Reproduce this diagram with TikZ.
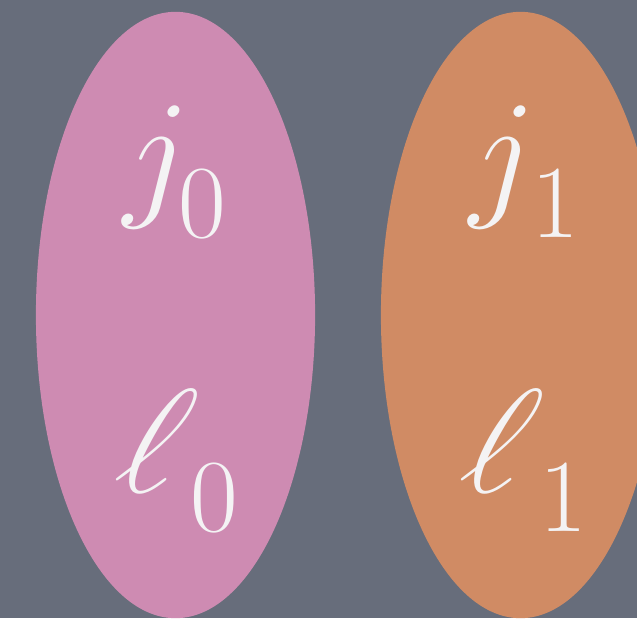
\documentclass[tikz,border=0pt]{standalone}
\usepackage{fix-cm}
\definecolor{bgcol}{HTML}{676D7B}
\definecolor{pinkfill}{HTML}{CE8BB2}
\definecolor{orangefill}{HTML}{D08B64}
\definecolor{txtcol}{HTML}{F4F3F4}
\tikzset{
  lbl/.style={text=txtcol, inner sep=0pt, anchor=base west},
  bigsym/.style={lbl, font=\fontsize{41}{41}\selectfont},
  slantell/.style={lbl, font=\fontsize{42}{42}\selectfont, transform shape},
  subnum/.style={lbl, font=\fontsize{29.5}{29.5}\selectfont}
}
\begin{document}
\begin{tikzpicture}[x=0.01cm,y=-0.01cm]
\fill[bgcol] (0,0) rectangle (637,618);
\useasboundingbox (0,0) rectangle (637,618);
\begin{scope}
\clip (0,0) rectangle (637,618);
\fill[pinkfill] (175.5,315) ellipse [x radius=1.395cm, y radius=3.03cm];
\fill[orangefill] (520.5,315) ellipse [x radius=1.395cm, y radius=3.03cm];
\end{scope}
\node[bigsym] (j0) at (123,200) {$j$};
\node[subnum] (j0s) at (178,237) {0};
\begin{scope}[shift={(110,492)}, xslant=0.3]
\node[slantell] (l0) at (0,0) {$\ell$};
\end{scope}
\node[subnum] (l0s) at (190,531) {0};
\node[bigsym] (j1) at (469,200) {$j$};
\node[subnum] (j1s) at (531,237) {1};
\begin{scope}[shift={(455,492)}, xslant=0.3]
\node[slantell] (l1) at (0,0) {$\ell$};
\end{scope}
\node[subnum] (l1s) at (539,531) {1};
\end{tikzpicture}
\end{document}
